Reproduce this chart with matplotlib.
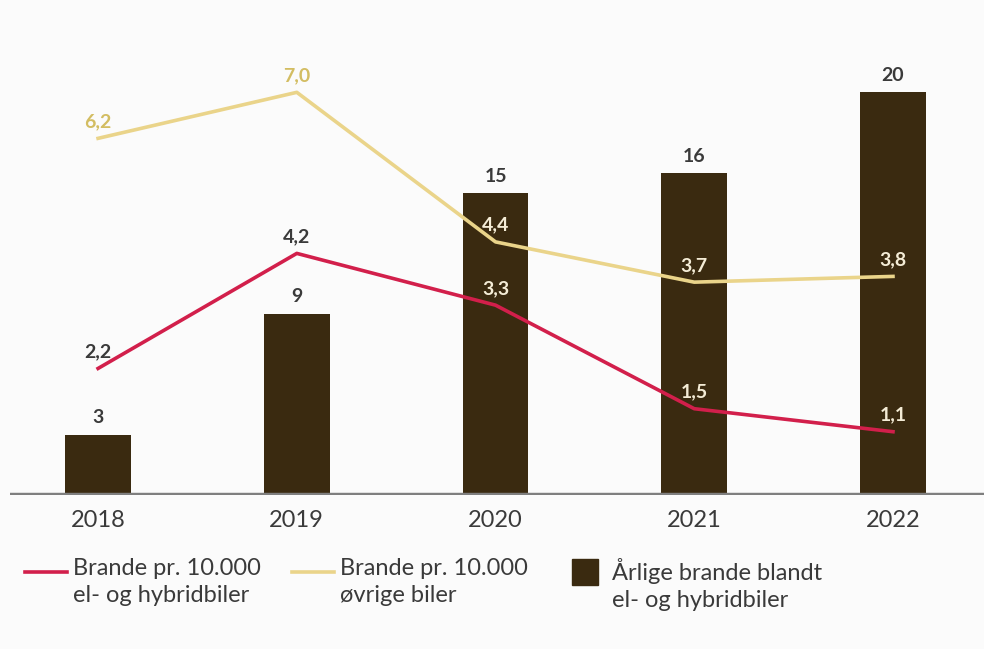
import numpy as np
import matplotlib.pyplot as plt
from matplotlib.lines import Line2D

plt.rcParams['font.family'] = ['Lato', 'DejaVu Sans']

years = ["2018", "2019", "2020", "2021", "2022"]
fires_ev = [3, 9, 15, 16, 20]                 # årlige brande blandt el- og hybridbiler
rate_ev = [2.2, 4.2, 3.3, 1.5, 1.1]           # brande pr. 10.000 el- og hybridbiler
rate_other = [6.2, 7.0, 4.4, 3.7, 3.8]        # brande pr. 10.000 øvrige biler

bar_col = "#3a2a10"
red = "#d21f4b"
yellow = "#eAd48a"
text_col = "#3a3a3a"

W, H = 984, 649
fig = plt.figure(figsize=(W / 100, H / 100), dpi=100, facecolor="#fbfbfb")
ax = fig.add_axes([0.0102, 0.2373, 0.9898, 0.7011])
ax.set_facecolor("none")
x = np.arange(len(years))

bars = ax.bar(x, fires_ev, width=0.33, color=bar_col, zorder=2)
ax.bar_label(bars, labels=[str(v) for v in fires_ev], padding=6,
             fontsize=14, fontweight="bold", color=text_col)
ax.axhline(0, color="#7f7f7f", lw=3.2, zorder=3)

ax.set_xlim(-0.443, 4.458)
ax.set_ylim(0, 22.6)
ax.set_xticks(x, years)
ax.tick_params(axis="x", length=0, pad=11, labelsize=17, labelcolor=text_col)
ax.set_yticks([])
for s in ax.spines.values():
    s.set_visible(False)

# rates on their own scale
ax2 = ax.twinx()
ax2.set_ylim(0, 7.91)
ax2.set_yticks([])
for s in ax2.spines.values():
    s.set_visible(False)
ratio = 22.6 / 7.91

ax2.plot(x, rate_other, color=yellow, lw=2.6, zorder=4)
ax2.plot(x, rate_ev, color=red, lw=2.6, zorder=5)

def fmt(v):
    return f"{v:.1f}".replace(".", ",")

for series, col in [(rate_other, "#d3bd62"), (rate_ev, text_col)]:
    for i, v in enumerate(series):
        inside = v * ratio < fires_ev[i]
        ax2.annotate(fmt(v), (x[i], v), xytext=(0, 12), textcoords="offset points",
                     ha="center", va="center", fontsize=14, fontweight="bold",
                     color="#f4ecd6" if inside else col, zorder=6)

# legend below the chart, handles lined up with the first text line
entries = [
    ("line", red, "Brande pr. 10.000\nel- og hybridbiler", 25),
    ("line", yellow, "Brande pr. 10.000\nøvrige biler", 292),
    ("box", bar_col, "Årlige brande blandt\nel- og hybridbiler", 570),
]
y0 = 1 - 572 / H
for kind, col, label, px in entries:
    if kind == "line":
        fig.add_artist(Line2D([px / W, (px + 42) / W], [y0, y0], color=col,
                              lw=2.6, transform=fig.transFigure))
        tx = px + 48
    else:
        fig.add_artist(Line2D([(px + 15) / W], [y0], marker="s", markersize=19,
                              color=col, transform=fig.transFigure))
        tx = px + 42
    fig.text(tx / W, 1 - 558 / H, label, fontsize=17, color=text_col,
             va="top", ha="left", linespacing=1.35)

fig.savefig("out.png", dpi=100, facecolor=fig.get_facecolor())
